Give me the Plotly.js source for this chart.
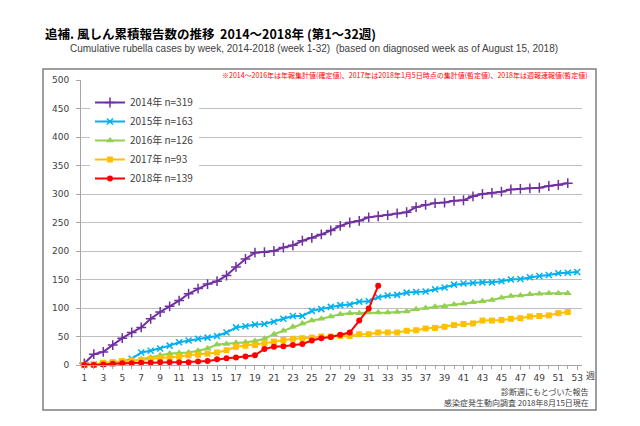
<!DOCTYPE html>
<html>
<head>
<meta charset="utf-8">
<script src="https://cdn.plot.ly/plotly-3.0.1.min.js"></script>
<style>html,body{margin:0;padding:0;background:#fff;}#chart{width:640px;height:426px;}</style>
</head>
<body>
<div id="chart"></div>
<script>
// ---- data ----
const weeks = [1,2,3,4,5,6,7,8,9,10,11,12,13,14,15,16,17,18,19,20,21,22,23,24,25,26,27,28,29,30,31,32,33,34,35,36,37,38,39,40,41,42,43,44,45,46,47,48,49,50,51,52,53];
const seriesNames = ["2014年 n=319","2015年 n=163","2016年 n=126","2017年 n=93","2018年 n=139"];
const y2014 = [3,19,23,35,47,57,66,81,93,103,113,125,134,142,147,157,172,186,197,198,200,206,210,218,223,229,236,244,250,253,259,261,263,266,268,277,281,284,285,288,289,296,300,302,304,308,309,310,311,314,316,319];
const y2015 = [0,1,2,3,5,11,22,25,29,34,40,43,46,48,51,57,66,68,71,72,76,81,86,86,95,98,102,105,106,111,112,119,122,123,127,128,129,133,136,141,143,144,145,145,147,150,151,154,156,158,161,162,163];
const y2016 = [0,1,2,3,4,6,10,13,17,20,21,22,25,29,36,37,39,40,42,46,54,60,67,73,78,81,85,89,91,91,92,92,92,93,94,98,100,102,103,106,108,110,112,114,118,121,122,124,125,126,126,126];
const y2017 = [0,1,4,5,7,8,9,11,12,13,15,17,18,20,22,26,32,34,35,38,41,44,46,47,48,50,50,51,51,54,54,57,57,57,60,61,64,65,67,70,72,73,78,78,79,81,82,85,86,87,91,93];
const y2018 = [0,0,1,2,3,3,4,4,5,5,5,5,6,7,10,12,13,15,17,28,32,33,35,37,43,47,49,53,57,78,99,139];
const xTickVals = [1,3,5,7,9,11,13,15,17,19,21,23,25,27,29,31,33,35,37,39,41,43,45,47,49,51,53];
const yTickVals = [0,50,100,150,200,250,300,350,400,450,500];

const titleText = "追補. 風しん累積報告数の推移  2014～2018年 (第1～32週)";
const subtitleText = "Cumulative rubella cases by week, 2014-2018 (week 1-32)  (based on diagnosed week as of August 15, 2018)";
const noteText = "※2014～2016年は年報集計値(確定値)、2017年は2018年1月5日時点の集計値(暫定値)、2018年は週報速報値(暫定値)";
const footer1 = "診断週にもとづいた報告";
const footer2 = "感染症発生動向調査 2018年8月15日現在";
const weekUnit = "週";

// ---- styling ----
const colors = ["#7030A0","#00B0F0","#92D050","#FFC000","#FF0000"];
const symbols = ["cross-thin","x-thin","triangle-up","square","circle"];
const msizes = [7,6,7,6,6];
const allY = [y2014,y2015,y2016,y2017,y2018];

const FONT = "DejaVu Sans, Noto Sans CJK JP, sans-serif";
const SFONT = "Liberation Sans, Arial, sans-serif";
const JFONT = "Noto Sans CJK JP, DejaVu Sans, sans-serif";

const M = {l:81, r:582, t:80, b:365};
const px = x => (x - M.l) / (M.r - M.l);
const py = y => (M.b - y) / (M.b - M.t);

const traces = allY.map((ys, i) => ({
  type: "scatter",
  mode: "lines+markers",
  name: seriesNames[i],
  x: weeks.slice(0, ys.length),
  y: ys,
  line: {color: colors[i], width: 2},
  marker: {symbol: symbols[i], size: msizes[i], color: colors[i],
           line: {color: colors[i], width: (i < 2 ? 1.5 : 0)}},
  cliponaxis: false
}));

const layout = {
  width: 640, height: 426,
  margin: {l: M.l, r: 640 - M.r, t: M.t, b: 426 - M.b, pad: 0},
  paper_bgcolor: "#fff", plot_bgcolor: "#fff",
  font: {family: FONT, size: 10, color: "#404040"},
  title: {text: titleText, font: {family: JFONT, size: 12.5, color: "#000", weight: "bold"},
          xref: "container", yref: "container", x: 45/640, xanchor: "left",
          y: 1 - 35/426, yanchor: "middle"},
  showlegend: true,
  legend: {x: px(90), y: py(88), xanchor: "left", yanchor: "top",
           bgcolor: "#fff", borderwidth: 0, font: {family: JFONT, size: 10, color: "#404040"},
           itemwidth: 30, tracegroupgap: 0},
  xaxis: {range: [0.65, 53.5], tickvals: xTickVals, ticktext: xTickVals.map(String),
          showgrid: false, zeroline: false, showline: true, linecolor: "#a6a6a6", linewidth: 1,
          ticks: "outside", ticklen: 4, tickcolor: "#a6a6a6",
          minor: {dtick: 1, tick0: 0, ticks: "outside", ticklen: 3, tickcolor: "#a6a6a6"},
          tickfont: {family: FONT, size: 9, color: "#404040"}, fixedrange: true},
  yaxis: {range: [0, 500], tickvals: yTickVals, showgrid: true, gridcolor: "#bfbfbf", gridwidth: 1,
          zeroline: false, showline: true, linecolor: "#a6a6a6", linewidth: 1,
          ticks: "outside", ticklen: 4, tickcolor: "#a6a6a6", ticklabelstandoff: 5,
          tickfont: {family: FONT, size: 9, color: "#404040"}, fixedrange: true},
  shapes: [
    {type: "rect", xref: "paper", yref: "paper", x0: px(43), x1: px(596), y0: py(410), y1: py(69),
     line: {color: "#7f7f7f", width: 1.5}, fillcolor: "rgba(0,0,0,0)", layer: "below"}
  ],
  annotations: [
    {text: subtitleText, xref: "paper", yref: "paper", x: px(68), y: py(48), xanchor: "left", yanchor: "middle",
     showarrow: false, font: {family: SFONT, size: 10, color: "#404040"}},
    {text: noteText, xref: "paper", yref: "paper", x: px(590), y: py(75), xanchor: "right", yanchor: "middle",
     showarrow: false, font: {family: JFONT, size: 7, color: "#FF0000"}},
    {text: weekUnit, xref: "paper", yref: "paper", x: px(584), y: py(375), xanchor: "left", yanchor: "middle",
     showarrow: false, font: {family: JFONT, size: 9, color: "#404040"}},
    {text: footer1, xref: "paper", yref: "paper", x: px(591), y: py(391), xanchor: "right", yanchor: "middle",
     showarrow: false, font: {family: JFONT, size: 8, color: "#404040"}},
    {text: footer2, xref: "paper", yref: "paper", x: px(591), y: py(402), xanchor: "right", yanchor: "middle",
     showarrow: false, font: {family: JFONT, size: 8, color: "#404040"}}
  ]
};

Plotly.newPlot("chart", traces, layout, {displayModeBar: false, staticPlot: true});
</script>
</body>
</html>
